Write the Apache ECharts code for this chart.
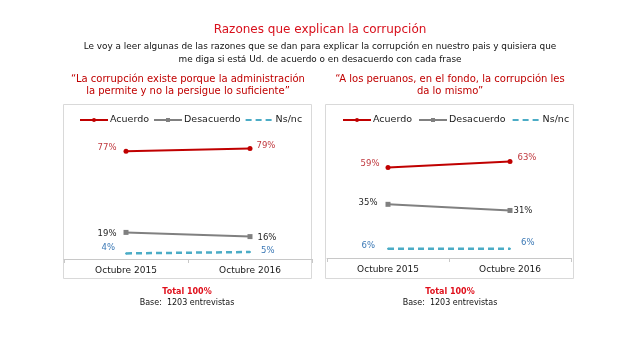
<!DOCTYPE html>
<html><head><meta charset="utf-8">
<script src="https://cdn.jsdelivr.net/npm/echarts@6/dist/echarts.min.js"></script>
<style>html,body{margin:0;padding:0;background:#fff}#c{width:640px;height:357px}</style>
</head><body><div id="c"></div>
<script>
// ---- data ----
const categories = ['Octubre 2015', 'Octubre 2016'];
const seriesNames = ['Acuerdo', 'Desacuerdo', 'Ns/nc'];
const leftAcuerdo = [77, 79];
const leftDesacuerdo = [19, 16];
const leftNsnc = [4, 5];
const rightAcuerdo = [59, 63];
const rightDesacuerdo = [35, 31];
const rightNsnc = [6, 6];

// ---- texts ----
const mainTitle = 'Razones que explican la corrupción';
const subtitleLines = [
  'Le voy a leer algunas de las razones que se dan para explicar la corrupción en nuestro pais y quisiera que',
  'me diga si está Ud. de acuerdo o en desacuerdo con cada frase'
];
const leftQuote = ['“La corrupción existe porque la administración', 'la permite y no la persigue lo suficiente”'];
const rightQuote = ['“A los peruanos, en el fondo, la corrupción les', 'da lo mismo”'];
const footerTotal = 'Total 100%';
const footerBase = 'Base:  1203 entrevistas';

// ---- styles ----
const FONT = '"DejaVu Sans", sans-serif';
const styles = {
  'Acuerdo':    {line: '#c00000', label: '#c0393f', symbol: 'circle', size: 5, type: 'solid', width: 2},
  'Desacuerdo': {line: '#808080', label: '#262626', symbol: 'rect', size: 5, type: 'solid', width: 2},
  'Ns/nc':      {line: '#4bacc6', label: '#3b78b5', symbol: 'circle', size: 2, type: [6, 4], width: 2.5}
};
// label offsets [first point, second point]
const labelOffsets = {
  left:  {'Acuerdo': [[-2, -3], [-1, -3]], 'Desacuerdo': [[-2, 1], [0, 1]], 'Ns/nc': [[-5, -6], [5, -1]]},
  right: {'Acuerdo': [[-1, -4], [0, -4]], 'Desacuerdo': [[-3, -2], [-4, 0]], 'Ns/nc': [[-7, -3], [5, -6]]}
};

function makeSeries(name, values, idx, side) {
  const st = styles[name];
  const offs = labelOffsets[side][name];
  return {
    type: 'line', name: name, xAxisIndex: idx, yAxisIndex: idx,
    symbol: st.symbol, symbolSize: st.size,
    lineStyle: {color: st.line, width: st.width, type: st.type},
    itemStyle: {color: st.line},
    emphasis: {disabled: true},
    animation: false,
    data: values.map((v, i) => ({
      value: v,
      label: {
        show: true, position: i === 0 ? 'left' : 'right',
        offset: offs[i], formatter: '{c}%',
        color: st.label, fontSize: 8.5, fontFamily: FONT
      }
    }))
  };
}

function textEl(x, y, text, size, color, weight) {
  return {type: 'text', x: x, y: y, style: {text: text, fontSize: size, fontFamily: FONT,
    fill: color, fontWeight: weight || 'normal', align: 'center', verticalAlign: 'middle'}};
}

const chart = echarts.init(document.getElementById('c'));
const legendData = seriesNames.map(n => n === 'Ns/nc'
  ? {name: n, itemStyle: {opacity: 0}}
  : {name: n});
const legendCommon = {
  data: legendData, itemWidth: 28, itemHeight: 5, selectedMode: false,
  textStyle: {fontSize: 9.5, fontFamily: FONT, color: '#1a1a1a', padding: [0, 0, 0, -3]}
};
const xAxisCommon = {
  type: 'category', data: categories, boundaryGap: true,
  axisLine: {lineStyle: {color: '#c8c8c8'}},
  axisTick: {show: true, length: 4, lineStyle: {color: '#c8c8c8'}},
  axisLabel: {color: '#1a1a1a', fontSize: 9, fontFamily: FONT, margin: 7}
};
const yAxisCommon = {type: 'value', min: 0, show: false, splitLine: {show: false}};

chart.setOption({
  backgroundColor: '#fff',
  animation: false,
  graphic: [
    {type: 'rect', shape: {x: 63.5, y: 104.5, width: 248, height: 174}, style: {fill: 'none', stroke: '#d9d9d9', lineWidth: 1}, z: -1},
    {type: 'rect', shape: {x: 325.5, y: 104.5, width: 248, height: 174}, style: {fill: 'none', stroke: '#d9d9d9', lineWidth: 1}, z: -1},
    textEl(320, 29.5, mainTitle, 12, '#d8101c'),
    textEl(320, 46.5, subtitleLines[0], 8.9, '#111'),
    textEl(320, 59.5, subtitleLines[1], 8.9, '#111'),
    textEl(188, 79.5, leftQuote[0], 10, '#c00000'),
    textEl(188, 91, leftQuote[1], 10, '#c00000'),
    textEl(450, 79.5, rightQuote[0], 10, '#c00000'),
    textEl(450, 91, rightQuote[1], 10, '#c00000'),
    textEl(187, 292, footerTotal, 8, '#e0101c', 'bold'),
    textEl(187, 302.5, footerBase, 8, '#111'),
    textEl(450, 292, footerTotal, 8, '#e0101c', 'bold'),
    textEl(450, 302.5, footerBase, 8, '#111')
  ],
  legend: [
    Object.assign({left: 74, top: 110, itemGap: 4}, legendCommon),
    Object.assign({left: 337, top: 110, itemGap: 6}, legendCommon)
  ],
  grid: [
    {left: 64, top: 119, width: 248, height: 140},
    {left: 327, top: 120, width: 244, height: 138}
  ],
  xAxis: [
    Object.assign({gridIndex: 0}, xAxisCommon),
    Object.assign({gridIndex: 1}, xAxisCommon)
  ],
  yAxis: [
    Object.assign({gridIndex: 0, max: 100}, yAxisCommon),
    Object.assign({gridIndex: 1, max: 90}, yAxisCommon)
  ],
  series: [
    makeSeries('Acuerdo', leftAcuerdo, 0, 'left'),
    makeSeries('Desacuerdo', leftDesacuerdo, 0, 'left'),
    makeSeries('Ns/nc', leftNsnc, 0, 'left'),
    makeSeries('Acuerdo', rightAcuerdo, 1, 'right'),
    makeSeries('Desacuerdo', rightDesacuerdo, 1, 'right'),
    makeSeries('Ns/nc', rightNsnc, 1, 'right')
  ]
});
</script></body></html>
